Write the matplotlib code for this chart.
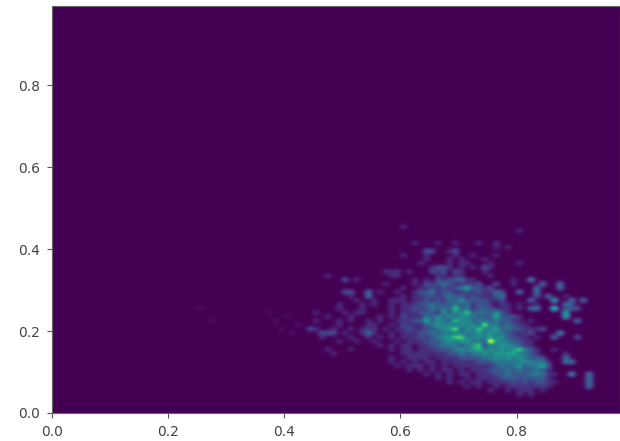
import numpy as np
import matplotlib
matplotlib.use("Agg")
import matplotlib.pyplot as plt

# counts per 0.01 x 0.01 bin
# each row starts at x bin 44, rows listed by y bin
first_x_bin = 44
count_rows = {
    45: "0000000000 0000001000",
    44: "0000000000 0000000000 0000000000 0000001",
    41: "0000000000 0000000010 0010010001 001",
    40: "0000000000 0000000000 0000000000 0010 1",
    39: "0000000000 0000000000 2200120000",
    38: "0000000000 0000001000 1000010010 0010",
    37: "0000000000 0000000000 1000101000 100",
    36: "0000000000 0000000001 0000101100 0100001",
    35: "0000000000 0000000000 0122101010 2100",
    34: "0000000000 0001110100 0212021000 1",
    33: "0001000000 0000110000 0011011000 01",
    32: "0000002010 0000000010 1021223110 0000010040",
    31: "0000000000 0001000010 2123211112 0020010000 3003",
    30: "0000000000 0000001001 1212123522 1200000003 0003",
    29: "0000002200 3010010012 2312211212 1132003003",
    28: "0000000100 3000001011 2212322121 1123000002 0300100",
    27: "0000000010 0100111011 2121324222 2112000030 0050030300",
    26: "0000010001 0100101112 2322232312 2101101001 0000320",
    25: "0000010001 0000101121 2323262312 2211101033 0070222",
    24: "0100001011 0000101112 2214243623 3242100000 0000500",
    23: "0001000100 0010102111 3242424332 2252221000 0000500",
    22: "0100010100 1010011122 5243263423 3232211010 0000003",
    21: "0000010000 1100102111 2343424342 7332321100",
    20: "2100100101 1101011211 2234472436 3352322111 2",
    19: "0022201001 3100101112 2323333334 3433211120 0004",
    18: "0010000100 1010101112 1234466334 3434221101 0030002",
    17: "0000010010 0100010111 2223434433 2943322110",
    16: "0000000000 0010101101 1223332346 1334432110",
    15: "0001000100 0000101101 1122234345 3434346321 001",
    14: "0000100000 0000001111 1111223233 4344453321 00001",
    13: "0000000000 0000100111 1011112222 3343434322 2000300",
    12: "0000000000 0000101010 1101111112 2233333433 3100330",
    11: "0000000000 0000010111 0101011111 1123234233 52",
    10: "0000000000 0000000101 0101101011 1222323223 21",
    9: "0000000000 0000000000 1010101101 1122322233 3110040030",
    8: "0000000000 0000000000 0010100101 1112222222 2100000030",
    7: "0000000000 0000000000 0000101011 0111121212 2110000030",
    6: "0000000000 0000000000 0000000101 0010111111 1100000030",
    5: "0000000000 0000000000 0000000000 0100101110 1",
    4: "0000000000 0000000000 0000000000 0000001010",
}
# faint cells left of the main cluster
stray_x_bins = [25, 27, 37, 38, 39, 40, 41, 42]
stray_y_bins = [25, 22, 24, 22, 20, 23, 19, 21]
tick_values = [0.0, 0.2, 0.4, 0.6, 0.8]

counts = np.zeros((100, 100))
for y_bin, row in count_rows.items():
    for k, ch in enumerate(row.replace(" ", "")):
        counts[y_bin, first_x_bin + k] = int(ch)
for x_bin, y_bin in zip(stray_x_bins, stray_y_bins):
    counts[y_bin, x_bin] = 0.4

fig = plt.figure(figsize=(6.2, 4.41), dpi=100)
ax = fig.add_axes([52 / 620, 28 / 441, 568 / 620, 407 / 441])
ax.imshow(counts, origin="lower", extent=[0, 1, 0, 1], aspect="auto",
          cmap="viridis", vmin=0, vmax=7.5, interpolation="gaussian",
          interpolation_stage="data")
ax.set_xlim(0, 0.978)
ax.set_ylim(0, 0.993)
ax.set_xticks(tick_values)
ax.set_yticks(tick_values)
ax.tick_params(labelsize=10, labelcolor="#444444", color="#555555", length=3.5, pad=5)
for spine in ax.spines.values():
    spine.set_color("#666666")
fig.savefig("out.png", dpi=100)
plt.close()
